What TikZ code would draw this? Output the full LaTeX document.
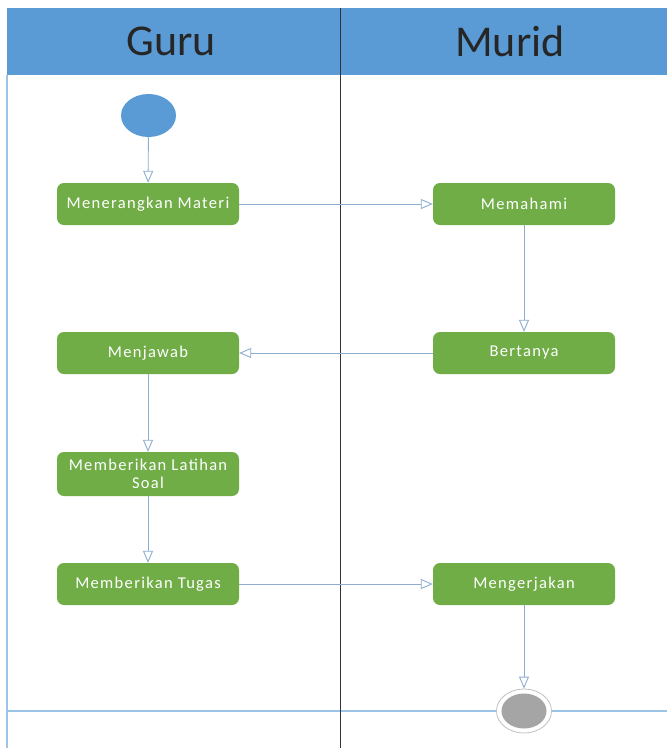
\documentclass[tikz,border=0pt]{standalone}
\usepackage{fontspec}
\setmainfont{Carlito}
\usetikzlibrary{arrows.meta,shapes.geometric}
\definecolor{hdr}{HTML}{5B9BD5}
\definecolor{grn}{HTML}{70AD47}
\definecolor{lnk}{HTML}{8EAED0}
\definecolor{brd}{HTML}{9DC3E6}
\definecolor{endg}{HTML}{A5A5A5}
\tikzset{
  act/.style={rectangle, rounded corners=7pt, fill=grn, text=white, minimum width=182pt, minimum height=42pt, inner sep=0pt, align=center, font=\fontsize{16.5}{18}\selectfont\addfontfeature{LetterSpace=8}},
  flow/.style={draw=lnk, line width=0.9pt, -{Triangle[open, length=12pt, width=10pt, fill=white]}},
  lane/.style={font=\fontsize{44}{48}\selectfont, text=black!85}
}
\begin{document}
\begin{tikzpicture}[x=1pt,y=-1pt]
\useasboundingbox (0,0) rectangle (667,748);
\fill[white] (0,0) rectangle (667,748);
% header
\fill[hdr] (7,8) rectangle (667,75);
\node[lane] (guru) at (171,41) {Guru};
\node[lane] (murid) at (510,41) {Murid};
% lane borders
\draw[brd, line width=1.2pt] (7,75) -- (7,748);
\draw[brd, line width=1.2pt] (7,711) -- (667,711);
\draw[black!80, line width=1pt] (340,8) -- (340,748);
% nodes
\node[ellipse, fill=hdr, minimum width=55pt, minimum height=43pt, inner sep=0pt] (start) at (148.5,115.5) {};
\node[act] (a1) at (148,204) {Menerangkan Materi};
\node[act] (b1) at (524,204) {Memahami};
\node[act] (b2) at (524,353) {Bertanya};
\node[act] (a2) at (148,353) {Menjawab};
\node[act, minimum height=44pt] (a3) at (148,474) {Memberikan Latihan\\Soal};
\node[act] (a4) at (148,584) {Memberikan Tugas};
\node[act] (b3) at (524,584) {Mengerjakan};
\node[ellipse, draw=endg!70, line width=0.8pt, fill=white, minimum width=55pt, minimum height=44pt, inner sep=0pt] (end) at (524,711) {};
\node[ellipse, fill=endg, minimum width=45pt, minimum height=35pt, inner sep=0pt] (endin) at (end.center) {};
% flows
\draw[flow] (start) -- (a1);
\draw[flow] (a1) -- (b1);
\draw[flow] (b1) -- (b2);
\draw[flow] (b2) -- (a2);
\draw[flow] (a2) -- (a3);
\draw[flow] (a3) -- (a4);
\draw[flow] (a4) -- (b3);
\draw[flow] (b3) -- (end);
\end{tikzpicture}
\end{document}
